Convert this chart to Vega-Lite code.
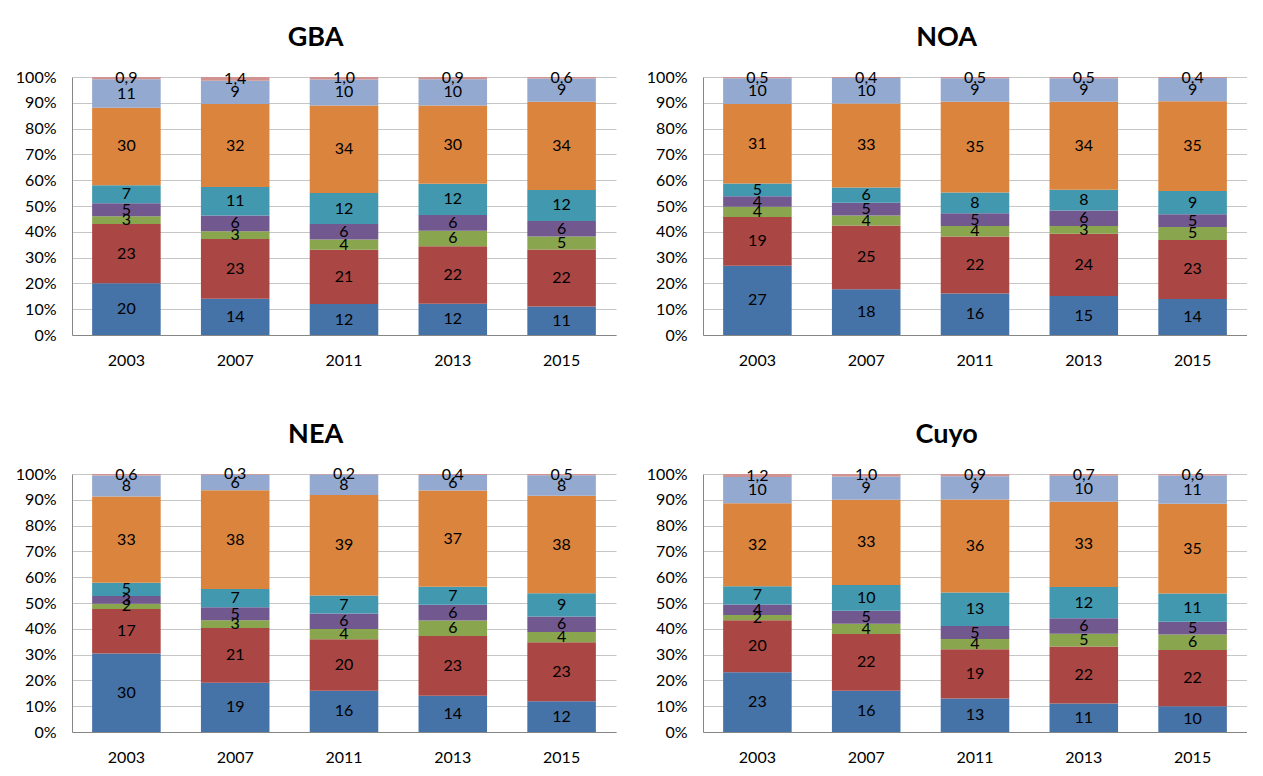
{
  "$schema": "https://vega.github.io/schema/vega-lite/v6.json",
  "padding": {"left": 15, "top": 24, "right": 0, "bottom": 0},
  "background": "white",
  "data": {"values": [
    {"r": "GBA", "y": "2003", "a": 20, "b": 23, "c": 3, "d": 5, "e": 7, "f": 30, "g": 11, "h": 0.9},
    {"r": "GBA", "y": "2007", "a": 14, "b": 23, "c": 3, "d": 6, "e": 11, "f": 32, "g": 9, "h": 1.4},
    {"r": "GBA", "y": "2011", "a": 12, "b": 21, "c": 4, "d": 6, "e": 12, "f": 34, "g": 10, "h": 1.0},
    {"r": "GBA", "y": "2013", "a": 12, "b": 22, "c": 6, "d": 6, "e": 12, "f": 30, "g": 10, "h": 0.9},
    {"r": "GBA", "y": "2015", "a": 11, "b": 22, "c": 5, "d": 6, "e": 12, "f": 34, "g": 9, "h": 0.6},
    {"r": "NOA", "y": "2003", "a": 27, "b": 19, "c": 4, "d": 4, "e": 5, "f": 31, "g": 10, "h": 0.5},
    {"r": "NOA", "y": "2007", "a": 18, "b": 25, "c": 4, "d": 5, "e": 6, "f": 33, "g": 10, "h": 0.4},
    {"r": "NOA", "y": "2011", "a": 16, "b": 22, "c": 4, "d": 5, "e": 8, "f": 35, "g": 9, "h": 0.5},
    {"r": "NOA", "y": "2013", "a": 15, "b": 24, "c": 3, "d": 6, "e": 8, "f": 34, "g": 9, "h": 0.5},
    {"r": "NOA", "y": "2015", "a": 14, "b": 23, "c": 5, "d": 5, "e": 9, "f": 35, "g": 9, "h": 0.4},
    {"r": "NEA", "y": "2003", "a": 30, "b": 17, "c": 2, "d": 3, "e": 5, "f": 33, "g": 8, "h": 0.6},
    {"r": "NEA", "y": "2007", "a": 19, "b": 21, "c": 3, "d": 5, "e": 7, "f": 38, "g": 6, "h": 0.3},
    {"r": "NEA", "y": "2011", "a": 16, "b": 20, "c": 4, "d": 6, "e": 7, "f": 39, "g": 8, "h": 0.2},
    {"r": "NEA", "y": "2013", "a": 14, "b": 23, "c": 6, "d": 6, "e": 7, "f": 37, "g": 6, "h": 0.4},
    {"r": "NEA", "y": "2015", "a": 12, "b": 23, "c": 4, "d": 6, "e": 9, "f": 38, "g": 8, "h": 0.5},
    {"r": "Cuyo", "y": "2003", "a": 23, "b": 20, "c": 2, "d": 4, "e": 7, "f": 32, "g": 10, "h": 1.2},
    {"r": "Cuyo", "y": "2007", "a": 16, "b": 22, "c": 4, "d": 5, "e": 10, "f": 33, "g": 9, "h": 1.0},
    {"r": "Cuyo", "y": "2011", "a": 13, "b": 19, "c": 4, "d": 5, "e": 13, "f": 36, "g": 9, "h": 0.9},
    {"r": "Cuyo", "y": "2013", "a": 11, "b": 22, "c": 5, "d": 6, "e": 12, "f": 33, "g": 10, "h": 0.7},
    {"r": "Cuyo", "y": "2015", "a": 10, "b": 22, "c": 6, "d": 5, "e": 11, "f": 35, "g": 11, "h": 0.6}
  ]},
  "transform": [{"fold": ["a", "b", "c", "d", "e", "f", "g", "h"], "as": ["s", "v"]}],
  "columns": 2,
  "spacing": {"column": 30, "row": 53},
  "concat": [
    {
      "title": "GBA",
      "width": 544, "height": 258,
      "transform": [{"filter": "datum.r === 'GBA'"}],
      "encoding": {
        "x": {"field": "y", "type": "ordinal", "scale": {"paddingInner": 0.37, "paddingOuter": 0.185}, "axis": {"title": null}},
        "order": {"field": "s"}
      },
      "layer": [
        {"mark": {"type": "bar"},
         "encoding": {
           "y": {"field": "v", "type": "quantitative", "stack": "normalize", "scale": {"domain": [0, 1], "nice": false}, "axis": {"title": null, "format": "%", "tickCount": 10}},
           "color": {"field": "s", "type": "nominal", "scale": {"domain": ["a", "b", "c", "d", "e", "f", "g", "h"], "range": ["#4572A7", "#AA4643", "#89A54E", "#71588F", "#4198AF", "#DB843D", "#93A9CF", "#D19392"]}, "legend": null}
         }},
        {"mark": {"type": "text", "font": "Lato", "fontSize": 16, "color": "#000000", "baseline": "middle"},
         "encoding": {
           "y": {"field": "v", "type": "quantitative", "stack": "normalize", "bandPosition": 0.5, "axis": {"title": null, "format": "%", "tickCount": 10}},
           "detail": {"field": "s"},
           "text": {"condition": {"test": "datum.s === 'h'", "field": "v", "type": "quantitative", "format": ".1f"}, "field": "v", "type": "quantitative", "format": ".0f"}
         }}
      ]
    },
    {
      "title": "NOA",
      "width": 544, "height": 258,
      "transform": [{"filter": "datum.r === 'NOA'"}],
      "encoding": {
        "x": {"field": "y", "type": "ordinal", "scale": {"paddingInner": 0.37, "paddingOuter": 0.185}, "axis": {"title": null}},
        "order": {"field": "s"}
      },
      "layer": [
        {"mark": {"type": "bar"},
         "encoding": {
           "y": {"field": "v", "type": "quantitative", "stack": "normalize", "scale": {"domain": [0, 1], "nice": false}, "axis": {"title": null, "format": "%", "tickCount": 10}},
           "color": {"field": "s", "type": "nominal", "scale": {"domain": ["a", "b", "c", "d", "e", "f", "g", "h"], "range": ["#4572A7", "#AA4643", "#89A54E", "#71588F", "#4198AF", "#DB843D", "#93A9CF", "#D19392"]}, "legend": null}
         }},
        {"mark": {"type": "text", "font": "Lato", "fontSize": 16, "color": "#000000", "baseline": "middle"},
         "encoding": {
           "y": {"field": "v", "type": "quantitative", "stack": "normalize", "bandPosition": 0.5, "axis": {"title": null, "format": "%", "tickCount": 10}},
           "detail": {"field": "s"},
           "text": {"condition": {"test": "datum.s === 'h'", "field": "v", "type": "quantitative", "format": ".1f"}, "field": "v", "type": "quantitative", "format": ".0f"}
         }}
      ]
    },
    {
      "title": "NEA",
      "width": 544, "height": 258,
      "transform": [{"filter": "datum.r === 'NEA'"}],
      "encoding": {
        "x": {"field": "y", "type": "ordinal", "scale": {"paddingInner": 0.37, "paddingOuter": 0.185}, "axis": {"title": null}},
        "order": {"field": "s"}
      },
      "layer": [
        {"mark": {"type": "bar"},
         "encoding": {
           "y": {"field": "v", "type": "quantitative", "stack": "normalize", "scale": {"domain": [0, 1], "nice": false}, "axis": {"title": null, "format": "%", "tickCount": 10}},
           "color": {"field": "s", "type": "nominal", "scale": {"domain": ["a", "b", "c", "d", "e", "f", "g", "h"], "range": ["#4572A7", "#AA4643", "#89A54E", "#71588F", "#4198AF", "#DB843D", "#93A9CF", "#D19392"]}, "legend": null}
         }},
        {"mark": {"type": "text", "font": "Lato", "fontSize": 16, "color": "#000000", "baseline": "middle"},
         "encoding": {
           "y": {"field": "v", "type": "quantitative", "stack": "normalize", "bandPosition": 0.5, "axis": {"title": null, "format": "%", "tickCount": 10}},
           "detail": {"field": "s"},
           "text": {"condition": {"test": "datum.s === 'h'", "field": "v", "type": "quantitative", "format": ".1f"}, "field": "v", "type": "quantitative", "format": ".0f"}
         }}
      ]
    },
    {
      "title": "Cuyo",
      "width": 544, "height": 258,
      "transform": [{"filter": "datum.r === 'Cuyo'"}],
      "encoding": {
        "x": {"field": "y", "type": "ordinal", "scale": {"paddingInner": 0.37, "paddingOuter": 0.185}, "axis": {"title": null}},
        "order": {"field": "s"}
      },
      "layer": [
        {"mark": {"type": "bar"},
         "encoding": {
           "y": {"field": "v", "type": "quantitative", "stack": "normalize", "scale": {"domain": [0, 1], "nice": false}, "axis": {"title": null, "format": "%", "tickCount": 10}},
           "color": {"field": "s", "type": "nominal", "scale": {"domain": ["a", "b", "c", "d", "e", "f", "g", "h"], "range": ["#4572A7", "#AA4643", "#89A54E", "#71588F", "#4198AF", "#DB843D", "#93A9CF", "#D19392"]}, "legend": null}
         }},
        {"mark": {"type": "text", "font": "Lato", "fontSize": 16, "color": "#000000", "baseline": "middle"},
         "encoding": {
           "y": {"field": "v", "type": "quantitative", "stack": "normalize", "bandPosition": 0.5, "axis": {"title": null, "format": "%", "tickCount": 10}},
           "detail": {"field": "s"},
           "text": {"condition": {"test": "datum.s === 'h'", "field": "v", "type": "quantitative", "format": ".1f"}, "field": "v", "type": "quantitative", "format": ".0f"}
         }}
      ]
    }
  ],
  "config": {
    "locale": {"number": {"decimal": ",", "thousands": ".", "grouping": [3], "currency": ["$", ""]}},
    "view": {"stroke": null},
    "title": {"font": "Lato", "fontSize": 27, "fontWeight": "bold", "color": "#000000", "anchor": "middle", "frame": "bounds", "offset": 17},
    "axisY": {"labelFont": "Lato", "labelFontSize": 16, "labelColor": "#000000", "labelPadding": 16, "labelOverlap": false, "labelFlush": false, "ticks": false, "domain": true, "domainColor": "#868686", "gridColor": "#C6C6C6", "gridWidth": 1, "tickCount": 10},
    "axisX": {"labelFont": "Lato", "labelFontSize": 16, "labelColor": "#000000", "labelAngle": 0, "labelPadding": 17, "ticks": false, "domainColor": "#868686", "grid": false}
  }
}
